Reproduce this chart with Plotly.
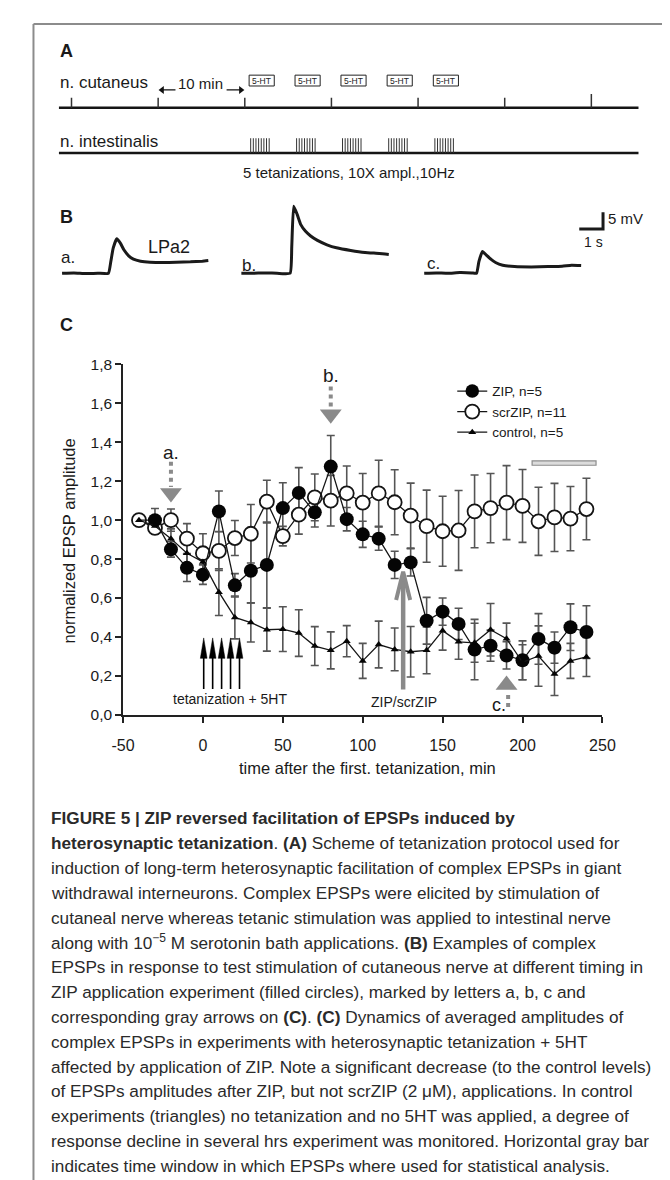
import plotly.graph_objects as go

W, H = 670, 1180
FONT = "Liberation Sans, Arial, sans-serif"

# ---------------- Panel C data (normalized EPSP amplitude) ----------------
TIME = [-40, -30, -20, -10, 0, 10, 20, 30, 40, 50, 60, 70, 80, 90, 100, 110, 120,
        130, 140, 150, 160, 170, 180, 190, 200, 210, 220, 230, 240]
ZIP = [1.0, 1.0, 0.85, 0.755, 0.72, 1.045, 0.665, 0.74, 0.77, 1.062, 1.14, 1.04, 1.275,
       1.005, 0.927, 0.905, 0.77, 0.783, 0.483, 0.53, 0.467, 0.335, 0.355, 0.305, 0.28,
       0.39, 0.345, 0.45, 0.425]
ZIP_ERR = [0, 0.06, 0.04, 0.07, 0.05, 0.105, 0.06, 0.165, 0.22, 0.13, 0.13, 0.075, 0.16,
           0.06, 0.067, 0.06, 0.07, 0.07, 0.12, 0.07, 0.08, 0.155, 0.08, 0.07, 0.10, 0.13,
           0.08, 0.12, 0.135]
SCR = [1.0, 0.96, 1.0, 0.905, 0.83, 0.842, 0.908, 0.93, 1.095, 0.918, 1.028, 1.117, 1.10,
       1.138, 1.09, 1.138, 1.092, 1.023, 0.969, 0.943, 0.947, 1.045, 1.062, 1.09, 1.073,
       0.994, 1.014, 1.008, 1.057]
SCR_ERR = [0, 0.03, 0.057, 0.077, 0.10, 0.10, 0.09, 0.15, 0.11, 0.05, 0.10, 0.12, 0.13,
           0.14, 0.15, 0.17, 0.167, 0.167, 0.185, 0.18, 0.205, 0.187, 0.178, 0.19, 0.187,
           0.175, 0.175, 0.165, 0.158]
CTRL = [1.0, 0.97, 0.905, 0.83, 0.785, 0.63, 0.50, 0.474, 0.437, 0.44, 0.42, 0.353, 0.331,
        0.378, 0.277, 0.361, 0.336, 0.324, 0.331, 0.432, 0.375, 0.37, 0.437, 0.391, 0.27,
        0.302, 0.209, 0.277, 0.297]
CTRL_ERR = [0, 0.04, 0.05, 0.05, 0.06, 0.12, 0.11, 0.10, 0.11, 0.115, 0.12, 0.10, 0.095,
            0.08, 0.09, 0.12, 0.11, 0.13, 0.12, 0.10, 0.09, 0.10, 0.135, 0.08, 0.09, 0.155,
            0.11, 0.09, 0.10]
SERIES_NAMES = ["ZIP, n=5", "scrZIP, n=11", "control, n=5"]
X_TICKS = [-50, 0, 50, 100, 150, 200, 250]
X_TICKTEXT = ["-50", "0", "50", "100", "150", "200", "250"]
Y_TICKS = [0.0, 0.2, 0.4, 0.6, 0.8, 1.0, 1.2, 1.4, 1.6, 1.8]
ANALYSIS_WINDOW = [206, 246]
ANALYSIS_LEVEL = 1.293
TET_TIMES_C = [0.5, 6.1, 11.7, 17.3, 22.9]
MARK_A_T, MARK_B_T, MARK_C_T = -20, 80, 190
ZIP_APPLY_T = 125.3

# ---------------- Panel A data (protocol, minutes) ----------------
CUT_TESTS = [-20, -10, 0, 10, 20, 30, 40]
TET_TIMES_A = [0.68, 5.98, 11.28, 16.61, 21.94]
PULSES_PER_BURST = 8
TEN_MIN = 10

# ---------------- Panel B data (EPSP traces, s / mV) ----------------
A_T = [0, 0.5, 1.0, 1.5, 1.95, 2.05, 2.15, 2.3, 2.45, 2.6, 2.8, 3.0, 3.3, 3.7, 4.2, 4.8, 5.4, 5.9, 6.15]
A_MV = [0, 0.1, -0.1, 0, 0, 3.5, 7.5, 10.3, 9.0, 7.0, 5.2, 4.2, 3.6, 3.3, 3.2, 3.3, 3.4, 3.6, 3.8]
B_T = [0, 0.5, 1.0, 1.5, 2.05, 2.12, 2.2, 2.35, 2.5, 2.7, 2.9, 3.2, 3.6, 4.0, 4.6, 5.2, 5.8, 6.2]
B_MV = [0, 0, 0.1, 0, 0, 8, 20, 17.5, 14.5, 12.5, 11.2, 9.8, 8.5, 7.6, 6.8, 6.2, 5.9, 5.6]
C_T = [0, 0.5, 1.0, 1.5, 2.0, 2.2, 2.3, 2.45, 2.6, 2.8, 3.0, 3.3, 3.8, 4.5, 5.2, 5.8, 6.2, 6.6]
C_MV = [0, 0.1, 0, 0.2, 0.1, 0, 3.5, 6.5, 5.5, 4.2, 3.2, 2.4, 2.0, 1.9, 2.0, 2.1, 2.4, 2.3]
SCALE_MV = 5
SCALE_S = 1

# ---------------- Caption ----------------
CAPTION = [
    "<b>FIGURE 5 | ZIP reversed facilitation of EPSPs induced by</b>",
    "<b>heterosynaptic tetanization</b>. <b>(A)</b> Scheme of tetanization protocol used for",
    "induction of long-term heterosynaptic facilitation of complex EPSPs in giant",
    "withdrawal interneurons. Complex EPSPs were elicited by stimulation of",
    "cutaneal nerve whereas tetanic stimulation was applied to intestinal nerve",
    "along with 10<sup>\u22125</sup> M serotonin bath applications. <b>(B)</b> Examples of complex",
    "EPSPs in response to test stimulation of cutaneous nerve at different timing in",
    "ZIP application experiment (filled circles), marked by letters a, b, c and",
    "corresponding gray arrows on <b>(C)</b>. <b>(C)</b> Dynamics of averaged amplitudes of",
    "complex EPSPs in experiments with heterosynaptic tetanization + 5HT",
    "affected by application of ZIP. Note a significant decrease (to the control levels)",
    "of EPSPs amplitudes after ZIP, but not scrZIP (2 \u03bcM), applications. In control",
    "experiments (triangles) no tetanization and no 5HT was applied, a degree of",
    "response decline in several hrs experiment was monitored. Horizontal gray bar",
    "indicates time window in which EPSPs where used for statistical analysis.",
]


def xp(px):
    return px / W


def yp(py):
    return 1 - py / H


GRAY = "#8a8a8a"
INK = "#151515"
NOHOVER = dict(showlegend=False, hoverinfo="skip")

fig = go.Figure()

# ======== Panel C ========
for vals, errs in [(SCR, SCR_ERR), (ZIP, ZIP_ERR), (CTRL, CTRL_ERR)]:
    fig.add_trace(go.Scatter(
        x=TIME, y=vals, mode="markers",
        marker=dict(size=1, color="rgba(0,0,0,0)"),
        error_y=dict(type="data", array=errs, visible=True, color="#555555",
                     thickness=1.6, width=4),
        **NOHOVER))

fig.add_trace(go.Scatter(
    x=TIME, y=SCR, mode="lines+markers", name=SERIES_NAMES[1], legendrank=2,
    line=dict(color=INK, width=1.3),
    marker=dict(symbol="circle", size=14, color="white", opacity=1,
                line=dict(color=INK, width=1.8))))
fig.add_trace(go.Scatter(
    x=TIME, y=ZIP, mode="lines+markers", name=SERIES_NAMES[0], legendrank=1,
    line=dict(color=INK, width=1.3),
    marker=dict(symbol="circle", size=[0] + [14] * (len(TIME) - 1), sizemode="diameter",
                color="#050505", opacity=1, line=dict(width=0))))
fig.add_trace(go.Scatter(
    x=TIME, y=CTRL, mode="lines+markers", name=SERIES_NAMES[2], legendrank=3,
    line=dict(color=INK, width=1.3),
    marker=dict(symbol="triangle-up", size=7, color="#050505", opacity=1)))

# gray dotted arrows a, b, c
for t, v0, v1 in [(MARK_A_T, 1.30, 1.17), (MARK_B_T, 1.686, 1.576), (MARK_C_T + 1, 0.04, 0.115)]:
    fig.add_trace(go.Scatter(x=[t, t], y=[v0, v1], mode="lines",
                             line=dict(color=GRAY, width=4, dash="dot"), **NOHOVER))
fig.add_trace(go.Scatter(x=[MARK_A_T, MARK_B_T], y=[1.139, 1.544], mode="markers",
                         marker=dict(symbol="triangle-down", size=19, color=GRAY), **NOHOVER))
fig.add_trace(go.Scatter(x=[MARK_C_T], y=[0.153], mode="markers",
                         marker=dict(symbol="triangle-up", size=19, color=GRAY), **NOHOVER))

# ZIP / scrZIP application arrow
fig.add_trace(go.Scatter(x=[ZIP_APPLY_T, ZIP_APPLY_T], y=[0.13, 0.72], mode="lines",
                         line=dict(color=GRAY, width=4.5), **NOHOVER))
fig.add_trace(go.Scatter(x=[ZIP_APPLY_T - 4.4, ZIP_APPLY_T, ZIP_APPLY_T + 4.4],
                         y=[0.59, 0.735, 0.59], mode="lines",
                         line=dict(color=GRAY, width=4), **NOHOVER))

# tetanization arrows
sx, sy, hx, hy = [], [], [], []
for t in TET_TIMES_C:
    sx += [t, t, None]
    sy += [0.133, 0.30, None]
    hx += [t - 2.1, t, t + 2.1, t - 2.1, None]
    hy += [0.29, 0.395, 0.29, 0.29, None]
fig.add_trace(go.Scatter(x=sx, y=sy, mode="lines", line=dict(color="#000", width=1.6), **NOHOVER))
fig.add_trace(go.Scatter(x=hx, y=hy, mode="lines", fill="toself", fillcolor="#000",
                         line=dict(color="#000", width=0.5), **NOHOVER))

# ======== Panel A (protocol) ========
ROW_CUT, ROW_INT = 92, 138
LINE_SPAN = [-21.45, 45.44]
for row in (ROW_CUT, ROW_INT):
    fig.add_trace(go.Scatter(x=LINE_SPAN, y=[row, row], xaxis="x2", yaxis="y2", mode="lines",
                             line=dict(color=INK, width=2.5), **NOHOVER))
tx, ty = [], []
for i, t in enumerate(CUT_TESTS):
    tx += [t, t, None]
    ty += [ROW_CUT, ROW_CUT - (14 if i == len(CUT_TESTS) - 1 else 10), None]
fig.add_trace(go.Scatter(x=tx, y=ty, xaxis="x2", yaxis="y2", mode="lines",
                         line=dict(color="#333", width=1.5), **NOHOVER))
bx, by = [], []
for s in TET_TIMES_A:
    for k in range(PULSES_PER_BURST):
        x = s + k * 0.305
        bx += [x, x, None]
        by += [ROW_INT, ROW_INT - 15, None]
fig.add_trace(go.Scatter(x=bx, y=by, xaxis="x2", yaxis="y2", mode="lines",
                         line=dict(color="#333", width=1), **NOHOVER))

# 10 min arrows (between second and third test)
t_left, t_right = CUT_TESTS[1], CUT_TESTS[1] + TEN_MIN
fig.add_trace(go.Scatter(x=[t_left + 2.0, t_left + 0.35, None, t_right - 2.1, t_right - 0.35],
                         y=[74, 74, None, 74, 74], xaxis="x2", yaxis="y2", mode="lines",
                         line=dict(color="#111", width=1.3), **NOHOVER))
fig.add_trace(go.Scatter(x=[t_left + 0.45, t_right - 0.45], y=[74, 74], xaxis="x2", yaxis="y2",
                         mode="markers",
                         marker=dict(symbol=["triangle-left", "triangle-right"], size=7,
                                     color="#111"), **NOHOVER))

shapes = []
annotations = []
for s in TET_TIMES_A:
    x0 = s - 0.18
    shapes.append(dict(type="rect", xref="x2", yref="y2", x0=x0, x1=x0 + 2.9, y0=59, y1=70,
                       line=dict(color="#222", width=1), fillcolor="white"))
    annotations.append(dict(xref="x2", yref="y2", x=x0 + 1.45, y=64.7, text="5-HT",
                            showarrow=False, font=dict(size=8.5, color="#222", family=FONT)))

# ======== Panel B (EPSP traces) ========
B_OFFSETS = [0, 7.54, 15.23]
for off, tt, mv in zip(B_OFFSETS, [A_T, B_T, C_T], [A_MV, B_MV, C_MV]):
    fig.add_trace(go.Scatter(x=[off + t for t in tt], y=mv, xaxis="x3", yaxis="y3",
                             mode="lines", line=dict(color="#1a1a1a", width=3, shape="spline",
                                                     smoothing=0.4), **NOHOVER))
SB_X, SB_Y = 22.75, 13.24
fig.add_trace(go.Scatter(x=[SB_X - SCALE_S, SB_X, SB_X], y=[SB_Y, SB_Y, SB_Y + SCALE_MV],
                         xaxis="x3", yaxis="y3", mode="lines",
                         line=dict(color="#1a1a1a", width=3), **NOHOVER))

# ======== Frame ========
shapes.append(dict(type="line", xref="paper", yref="paper", x0=xp(14), x1=1, y0=yp(7), y1=yp(7),
                   line=dict(color="#8c8c8c", width=2)))
shapes.append(dict(type="line", xref="paper", yref="paper", x0=xp(14), x1=xp(14), y0=yp(7), y1=0,
                   line=dict(color="#8c8c8c", width=2)))
# analysis window bar
shapes.append(dict(type="rect", xref="x", yref="y", x0=ANALYSIS_WINDOW[0], x1=ANALYSIS_WINDOW[1],
                   y0=ANALYSIS_LEVEL - 0.011, y1=ANALYSIS_LEVEL + 0.011,
                   fillcolor="#dcdcdc", line=dict(color="#8c8c8c", width=1.2)))


def ptext(px, py, text, size, anchor="left", bold=False, color="#1a1a1a"):
    annotations.append(dict(xref="paper", yref="paper", x=xp(px), y=yp(py),
                            xanchor=anchor, yanchor="middle",
                            text=f"<b>{text}</b>" if bold else text, showarrow=False,
                            font=dict(size=size, color=color, family=FONT)))


ptext(39, 35, "A", 18, bold=True)
ptext(39, 66, "n. cutaneus", 17)
ptext(187, 67, "10 min", 15, anchor="center")
ptext(39, 126, "n. intestinalis", 17)
ptext(342, 158, "5 tetanizations, 10X ampl.,10Hz", 15, anchor="center")
ptext(39, 203, "B", 18, bold=True)
ptext(41, 244, "a.", 17)
ptext(131, 233, "LPa2", 18)
ptext(229, 252, "b.", 17)
ptext(421, 250, "c.", 17)
ptext(609, 204, "5 mV", 15)
ptext(596, 228, "1 s", 14, anchor="center")
ptext(39, 313, "C", 18, bold=True)
ptext(361, 762, "time after the first. tetanization, min", 16.5, anchor="center")
annotations.append(dict(xref="paper", yref="paper", x=xp(51), y=yp(532), text="normalized EPSP amplitude",
                        textangle=-90, showarrow=False, xanchor="center", yanchor="middle",
                        font=dict(size=16.5, color="#1a1a1a", family=FONT)))


def dtext(t, v, text, size):
    annotations.append(dict(xref="x", yref="y", x=t, y=v, text=text, showarrow=False,
                            xanchor="center", yanchor="middle",
                            font=dict(size=size, color="#1a1a1a", family=FONT)))


dtext(MARK_A_T, 1.35, "a.", 19)
dtext(MARK_B_T, 1.745, "b.", 19)
dtext(MARK_C_T - 5, 0.05, "c.", 18)
dtext(17, 0.081, "tetanization + 5HT", 14)
dtext(126, 0.066, "ZIP/scrZIP", 14)

for i, line in enumerate(CAPTION):
    annotations.append(dict(xref="paper", yref="paper", x=xp(30), y=yp(813 + 25.2 * i),
                            xanchor="left", yanchor="middle", text=line, showarrow=False,
                            font=dict(size=17.2, color="#2a2a2a", family=FONT)))

axis_common = dict(showgrid=False, zeroline=False)
fig.update_layout(
    width=W, height=H, margin=dict(l=0, r=0, t=0, b=0),
    paper_bgcolor="white", plot_bgcolor="rgba(0,0,0,0)",
    separators=", ", font=dict(family=FONT, color="#1a1a1a"),
    xaxis=dict(domain=[xp(107), xp(605)], range=[-50, 250], tickvals=X_TICKS, ticktext=X_TICKTEXT,
               showline=True, linecolor="#222", linewidth=1.5, ticks="outside", ticklen=6,
               tickwidth=1.5, tickcolor="#222", tickfont=dict(size=16, color="#1a1a1a"),
               ticklabelstandoff=9, **axis_common),
    yaxis=dict(domain=[yp(708), yp(352.5)], range=[0, 1.8], tickvals=Y_TICKS, tickformat=".1f",
               showline=True, linecolor="#222", linewidth=1.5, ticks="outside", ticklen=6,
               tickwidth=1.5, tickcolor="#222", tickfont=dict(size=15.5, color="#1a1a1a"),
               **axis_common),
    xaxis2=dict(domain=[0, 1], range=[(0 - 233.5) / 9, (W - 233.5) / 9], visible=False,
                anchor="y2", **axis_common),
    yaxis2=dict(domain=[yp(185), 1], range=[185, 0], visible=False, anchor="x2", **axis_common),
    xaxis3=dict(domain=[0, 1], range=[(0 - 43.7) / 24.7, (W - 43.7) / 24.7], visible=False,
                anchor="y3", **axis_common),
    yaxis3=dict(domain=[yp(305), yp(185)], range=[(260 - 305) / 3.4, (260 - 185) / 3.4],
                visible=False, anchor="x3", **axis_common),
    legend=dict(x=xp(449), y=yp(364), xanchor="left", yanchor="top", bgcolor="rgba(0,0,0,0)",
                font=dict(size=13.5, color="#1a1a1a", family=FONT), tracegroupgap=0,
                itemwidth=30),
    shapes=shapes, annotations=annotations,
)

fig.write_html("out.html", config={"displayModeBar": False})
